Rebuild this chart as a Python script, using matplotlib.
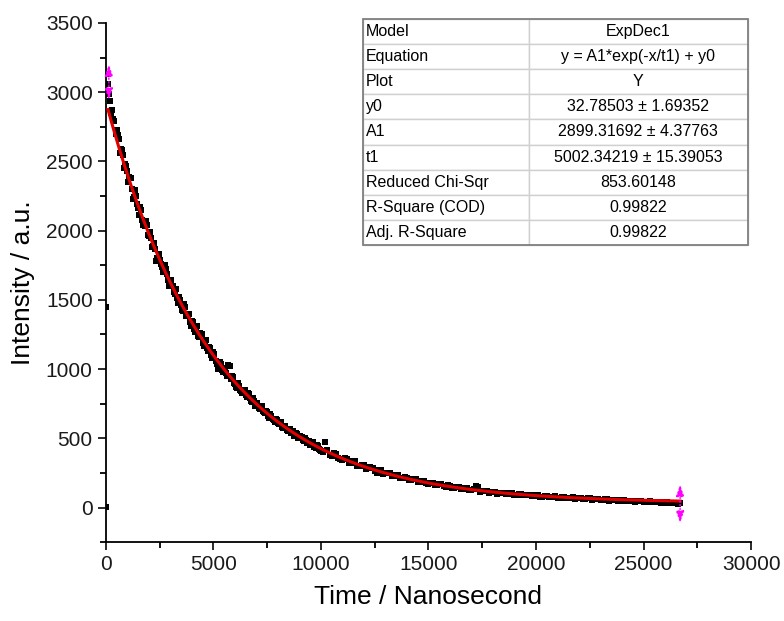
import numpy as np
import matplotlib
matplotlib.use("Agg")
import matplotlib.pyplot as plt
from matplotlib.ticker import MultipleLocator
from matplotlib.patches import Rectangle

plt.rcParams['font.family'] = ['Liberation Sans', 'DejaVu Sans']

# measured decay (ns, counts)
time_ns = [0, 20, 50, 100, 150, 200, 300, 400, 500, 600, 700, 800, 900, 1000,
           1100, 1200, 1300, 1400, 1500, 1600, 1700, 1800, 1900, 2000,
           2100, 2200, 2300, 2400, 2500, 2600, 2700, 2800, 2900, 3000,
           3100, 3200, 3300, 3400, 3500, 3600, 3700, 3800, 3900, 4000,
           4100, 4200, 4300, 4400, 4500, 4600, 4700, 4800, 4900, 5000,
           5100, 5200, 5300, 5400, 5500, 5600, 5700, 5800, 5900, 6000,
           6100, 6200, 6300, 6400, 6500, 6600, 6700, 6800, 6900, 7000,
           7100, 7200, 7300, 7400, 7500, 7600, 7700, 7800, 7900, 8000,
           8100, 8200, 8300, 8400, 8500, 8600, 8700, 8800, 8900, 9000,
           9100, 9200, 9300, 9400, 9500, 9600, 9700, 9800, 9900, 10000,
           10200, 10400, 10600, 10800, 11000, 11200, 11400, 11600, 11800, 12000,
           12200, 12400, 12600, 12800, 13000, 13200, 13400, 13600, 13800, 14000,
           14200, 14400, 14600, 14800, 15000, 15200, 15400, 15600, 15800, 16000,
           16200, 16400, 16600, 16800, 17000, 17200, 17400, 17600, 17800, 18000,
           18200, 18400, 18600, 18800, 19000, 19200, 19400, 19600, 19800, 20000,
           20200, 20400, 20600, 20800, 21000, 21200, 21400, 21600, 21800, 22000,
           22200, 22400, 22600, 22800, 23000, 23200, 23400, 23600, 23800, 24000,
           24200, 24400, 24600, 24800, 25000, 25200, 25400, 25600, 25800, 26000,
           26200, 26400, 26600, 26700]
intensity = [5, 1450, 3130, 3060, 2990, 2940, 2870, 2790, 2730, 2660, 2590, 2545, 2480, 2430,
             2390, 2300, 2240, 2250, 2160, 2170, 2080, 2030, 2040, 1960,
             1950, 1890, 1870, 1800, 1790, 1740, 1700, 1720, 1640, 1610,
             1600, 1540, 1510, 1520, 1460, 1420, 1450, 1380, 1340, 1350,
             1290, 1300, 1240, 1260, 1190, 1200, 1150, 1160, 1100, 1120,
             1060, 1000, 1050, 990, 1010, 970, 1030, 930, 940, 890,
             860, 880, 840, 850, 810, 830, 790, 760, 770, 740,
             720, 730, 700, 680, 690, 650, 660, 630, 640, 610,
             600, 580, 590, 560, 570, 540, 550, 520, 530, 500,
             510, 480, 490, 470, 450, 460, 440, 450, 420, 410,
             470, 380, 395, 360, 345, 352, 318, 333, 302, 306,
             283, 288, 252, 268, 247, 249, 226, 238, 212, 213,
             198, 204, 183, 192, 172, 176, 162, 167, 148, 157,
             141, 148, 131, 138, 127, 152, 113, 121, 108, 113,
             101, 106, 96, 103, 89, 95, 88, 91, 81, 90,
             77, 83, 75, 78, 69, 77, 66, 72, 64, 69,
             61, 66, 57, 63, 53, 60, 48, 55, 49, 52,
             44, 50, 41, 46, 40, 43, 37, 41, 33, 39,
             31, 35, 29, 32]

# interleaved channels
time_ns_mid = [250, 350, 450, 550, 650, 750, 850, 950, 1050, 1150,
               1250, 1350, 1450, 1550, 1650, 1750, 1850, 1950, 2050, 2150,
               2250, 2350, 2450, 2550, 2650, 2750, 2850, 2950, 3050, 3150,
               3250, 3350, 3450, 3550, 3650, 3750, 3850, 3950, 4050, 4150,
               4250, 4350, 4450, 4550, 4650, 4750, 4850, 4950, 5050, 5150,
               5250, 5350, 5450, 5550, 5650, 5750, 5850, 5950, 6050, 6150,
               6250, 6350, 6450, 6550, 6650, 6750, 6850, 6950, 7050, 7150,
               7250, 7350, 7450, 7550, 7650, 7750, 7850, 7950, 8050, 8150,
               8250, 8350, 8450, 8550, 8650, 8750, 8850, 8950, 9050, 9150,
               9250, 9350, 9450, 9550, 9650, 9750, 9850, 9950,
               10100, 10300, 10500, 10700, 10900, 11100, 11300, 11500, 11700, 11900,
               12100, 12300, 12500, 12700, 12900, 13100, 13300, 13500, 13700, 13900,
               14100, 14300, 14500, 14700, 14900, 15100, 15300, 15500, 15700, 15900,
               16100, 16300, 16500, 16700, 16900, 17100, 17300, 17500, 17700, 17900,
               18100, 18300, 18500, 18700, 18900, 19100, 19300, 19500, 19700, 19900,
               20100, 20300, 20500, 20700, 20900, 21100, 21300, 21500, 21700, 21900,
               22100, 22300, 22500, 22700, 22900, 23100, 23300, 23500, 23700, 23900,
               24100, 24300, 24500, 24700, 24900, 25100, 25300, 25500, 25700, 25900,
               26100, 26300, 26500]
intensity_mid = [2850, 2810, 2700, 2690, 2560, 2580, 2450, 2470, 2350, 2380,
                 2230, 2290, 2190, 2110, 2150, 2040, 2070, 1970, 1990, 1880,
                 1910, 1780, 1830, 1760, 1700, 1750, 1690, 1600, 1640, 1560,
                 1580, 1480, 1500, 1430, 1470, 1380, 1400, 1310, 1340, 1270,
                 1310, 1230, 1250, 1170, 1210, 1130, 1150, 1080, 1110, 1040,
                 1010, 1040, 980, 1000, 950, 1025, 950, 900, 870, 900,
                 850, 830, 850, 800, 820, 770, 790, 730, 755, 710,
                 735, 690, 700, 660, 675, 640, 620, 635, 600, 615,
                 575, 590, 555, 570, 535, 520, 540, 505, 520, 490,
                 500, 465, 480, 450, 470, 430, 445, 415,
                 400, 415, 375, 385, 350, 360, 325, 335, 300, 310,
                 280, 293, 262, 270, 245, 252, 228, 236, 213, 220,
                 200, 205, 186, 193, 174, 180, 163, 170, 152, 160,
                 143, 150, 134, 141, 127, 133, 150, 117, 120, 110,
                 114, 103, 107, 98, 102, 93, 97, 88, 92, 84,
                 88, 79, 84, 76, 80, 72, 77, 69, 74, 66,
                 70, 62, 68, 60, 62, 56, 59, 52, 55, 50,
                 52, 47, 50, 44, 47, 42, 45, 38, 42, 35,
                 38, 32, 34]

# ExpDec1 fit parameters from the report table
y0 = 32.78503
A1 = 2899.31692
t1 = 5002.34219
fit_start, fit_end = 100, 26700

table_rows = [
    ["Model", "ExpDec1"],
    ["Equation", "y = A1*exp(-x/t1) + y0"],
    ["Plot", "Y"],
    ["y0", "32.78503 \u00b1 1.69352"],
    ["A1", "2899.31692 \u00b1 4.37763"],
    ["t1", "5002.34219 \u00b1 15.39053"],
    ["Reduced Chi-Sqr", "853.60148"],
    ["R-Square (COD)", "0.99822"],
    ["Adj. R-Square", "0.99822"],
]

fig = plt.figure(figsize=(7.84, 6.21), dpi=100)
ax = fig.add_axes([0.135, 0.127, 0.823, 0.836])

ax.plot(time_ns, intensity, 's', color='black', ms=3.9, mew=0, zorder=2)
ax.plot(time_ns_mid, intensity_mid, 's', color='black', ms=3.9, mew=0, zorder=2)

xf = np.linspace(fit_start, fit_end, 400)
ax.plot(xf, A1 * np.exp(-xf / t1) + y0, color='#e00000', lw=2.2, zorder=3)

# data-selector markers at both ends of the fit range
for xa, lo, hi in [(140, 2925, 3220), (26700, -130, 185)]:
    ax.annotate('', xy=(xa, hi), xytext=(xa, lo),
                arrowprops=dict(arrowstyle='<|-|>,head_length=0.7,head_width=0.25',
                                color='#ff00ff', lw=1.0, linestyle=':'),
                zorder=4)

ax.set_xlim(0, 30000)
ax.set_ylim(-250, 3500)
ax.xaxis.set_major_locator(MultipleLocator(5000))
ax.xaxis.set_minor_locator(MultipleLocator(2500))
ax.yaxis.set_major_locator(MultipleLocator(500))
ax.yaxis.set_minor_locator(MultipleLocator(250))
for s in ['top', 'right']:
    ax.spines[s].set_visible(False)
for s in ['left', 'bottom']:
    ax.spines[s].set_linewidth(1.3)
ax.tick_params(which='major', direction='out', length=6, width=1.3, labelsize=15, colors='#1a1a1a')
ax.tick_params(which='minor', direction='out', length=4, width=1.3)
ax.set_xlabel('Time / Nanosecond', fontsize=19, labelpad=8)
ax.set_ylabel('Intensity / a.u.', fontsize=19, labelpad=8)

tab = ax.table(cellText=table_rows, cellLoc='left', colWidths=[0.431, 0.569],
               bbox=[0.398, 0.572, 0.597, 0.436], zorder=5)
tab.auto_set_font_size(False)
for (r, c), cell in tab.get_celld().items():
    cell.set_edgecolor('#d0d0d0')
    cell.set_linewidth(1.0)
    cell.set_facecolor('white')
    cell.get_text().set_fontsize(11.5)
    if c == 1:
        cell.get_text().set_ha('center')
        cell._loc = 'center'
    else:
        cell.PAD = 0.02
ax.add_patch(Rectangle((0.398, 0.572), 0.597, 0.436, transform=ax.transAxes,
                       fill=False, edgecolor='#808080', lw=1.3, zorder=6, clip_on=False))

fig.savefig('out.png', dpi=100)
